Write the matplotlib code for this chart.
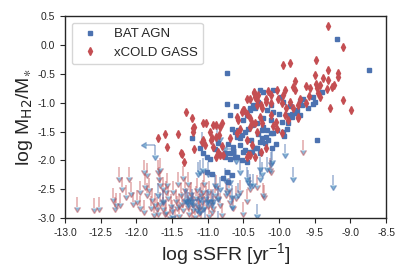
import matplotlib
matplotlib.use('Agg')
import matplotlib.pyplot as plt
import seaborn as sns
import numpy as np

sns.set_style('ticks')
plt.rcParams['font.family'] = ['Liberation Sans', 'DejaVu Sans']
plt.rcParams['mathtext.default'] = 'regular'

blue = '#4C72B0'
red = '#C44E52'

# xCOLD GASS detections
cg_x = [-9.31, -9.10, -9.94, -9.85, -9.48, -9.31, -9.49, -9.18, -9.18, -9.38, -9.32, -9.77, -9.62, -9.56,
        -9.48, -9.42, -9.26, -9.23, -9.33, -9.47, -9.45, -9.42, -9.10, -9.28, -8.99, -9.81, -9.77, -9.91,
        -10.03, -9.94, -10.15, -10.12, -10.35, -10.29, -9.71, -9.73, -9.84, -9.80, -10.01, -9.96, -10.19,
        -10.12, -10.31, -10.24, -9.73, -9.91, -9.87, -10.12, -10.05, -10.27, -10.24, -10.38, -10.31, -10.03,
        -9.96, -11.31, -11.22, -11.41, -11.20, -11.19, -11.06, -11.02, -10.92, -10.88, -10.80, -11.08, -11.06,
        -11.04, -11.19, -10.96, -10.88, -10.84, -10.92, -10.85, -11.36, -10.80, -10.83, -10.59, -10.57, -10.52,
        -10.49, -10.45, -10.41, -10.35, -10.34, -10.45, -10.38, -10.43, -10.34, -10.55, -10.59, -11.69, -11.60,
        -11.57, -11.38, -11.33, -11.20, -10.83, -10.94, -10.97, -10.31, -10.26, -10.19, -10.51, -10.45, -10.41,
        -10.34, -10.41, -10.69, -10.88, -10.78, -10.45, -10.41, -10.26, -10.19, -9.73, -9.62, -9.58, -9.90,
        -10.08]
cg_y = [0.33, -0.04, -0.34, -0.31, -0.26, -0.43, -0.52, -0.49, -0.55, -0.58, -0.61, -0.63, -0.71, -0.74,
        -0.67, -0.70, -0.73, -0.70, -0.77, -0.75, -0.84, -0.90, -0.96, -1.10, -1.12, -0.73, -0.78, -0.78,
        -0.78, -0.87, -0.80, -0.87, -0.82, -0.86, -0.94, -1.04, -0.98, -1.10, -0.93, -1.01, -0.93,
        -1.01, -1.04, -1.10, -1.25, -1.22, -1.30, -1.22, -1.33, -1.25, -1.36, -1.36, -1.50, -1.45,
        -1.53, -1.16, -1.26, -1.55, -1.50, -1.42, -1.36, -1.36, -1.38, -1.38, -1.35, -1.68, -1.65,
        -1.74, -1.81, -1.64, -1.60, -1.56, -1.77, -1.85, -1.89, -1.75, -1.91, -1.25, -1.30, -1.16,
        -1.13, -0.94, -0.93, -0.84, -0.90, -1.65, -1.74, -1.91, -1.94, -1.45, -1.53, -1.61, -1.55,
        -1.76, -1.88, -2.03, -1.44, -1.42, -1.62, -1.50, -0.96, -1.04, -0.99, -1.13, -1.19, -1.27,
        -1.36, -1.42, -1.62, -1.94, -1.90, -1.94, -1.91, -1.85, -1.79, -1.27, -1.00, -0.88, -1.10,
        -1.40]

# BAT AGN detections
bat_x = [-9.19, -8.74, -10.73, -10.73, -9.47, -9.71, -9.89, -9.93, -10.08, -10.12, -10.19, -10.24, -10.27,
         -9.52, -9.68, -9.82, -10.22, -10.17, -9.49, -9.52, -9.40, -9.66, -9.70, -9.75, -9.76, -9.82, -9.89,
         -10.08, -10.22, -10.27, -9.98, -9.94, -10.12, -10.17, -10.08, -10.29, -10.36, -10.41, -10.22, -10.12,
         -9.96, -9.87, -10.31, -10.24, -10.03, -9.94, -10.69, -11.22, -10.66, -10.62, -10.57, -10.59, -10.52,
         -10.48, -10.43, -10.38, -10.41, -10.34, -10.45, -10.71, -10.64, -10.55, -10.48, -10.41, -10.34, -10.69,
         -10.62, -10.76, -11.01, -10.97, -11.01, -10.94, -10.80, -10.76, -10.69, -10.64, -10.59, -10.52, -10.45,
         -10.38, -10.31, -10.27, -10.73, -10.66, -10.78, -10.71, -10.05, -10.10, -11.11, -11.06, -10.50, -10.55,
         -10.30, -10.00, -10.15, -9.85, -9.60, -10.60, -10.40, -10.20, -10.85, -10.90, -10.50]
bat_y = [0.11, -0.43, -0.49, -1.03, -1.65, -1.22, -1.45, -1.58, -1.53, -1.53, -1.59, -1.62, -1.68,
         -1.03, -1.04, -1.19, -1.42, -1.48, -0.99, -0.90, -0.81, -0.93, -0.99, -1.13, -1.18, -1.24, -1.22,
         -0.78, -0.81, -0.78, -0.90, -0.99, -1.04, -1.13, -1.16, -0.99, -1.04, -1.10, -1.27, -1.30,
         -1.33, -1.36, -1.36, -1.48, -1.48, -1.50, -1.22, -1.62, -1.45, -1.50, -1.48, -1.59, -1.56,
         -1.50, -1.45, -1.39, -1.13, -1.10, -1.22, -1.71, -1.77, -1.74, -1.82, -1.85, -1.79, -1.88,
         -1.94, -1.94, -1.94, -1.97, -2.20, -2.23, -1.91, -1.88, -1.97, -1.85, -1.94, -2.00, -2.03,
         -1.85, -1.79, -1.88, -2.20, -2.26, -2.31, -2.37, -1.71, -1.79, -1.79, -1.88, -1.30, -1.62,
         -1.55, -1.20, -1.65, -1.05, -1.10, -1.05, -1.65, -1.70, -1.70, -1.80, -1.85]

# xCOLD GASS upper limits
cg_lim_x = [-12.83, -12.60, -12.53, -12.33, -12.28, -12.23, -12.30, -12.25, -12.10, -12.20, -12.14, -12.07,
            -11.99, -11.95, -11.90, -11.90, -11.88, -11.83, -11.85, -11.78, -11.74, -11.71, -11.67, -11.62,
            -11.60, -11.69, -11.76, -11.69, -11.67, -11.62, -11.57, -11.85, -11.68, -11.67, -9.67, -10.13,
            -10.22, -10.50, -10.41, -10.31, -10.55, -10.69, -10.83, -10.80, -10.94, -11.06, -10.12, -10.21,
            -11.55, -11.52, -11.50, -11.48, -11.45, -11.43, -11.40, -11.38, -11.36, -11.34, -11.32, -11.30,
            -11.28, -11.26, -11.24, -11.22, -11.20, -11.18, -11.16, -11.14, -11.12, -11.10, -11.08, -11.05,
            -11.03, -11.00, -10.98, -10.95, -10.92, -10.90, -11.58, -11.53, -11.46, -11.42, -11.35, -11.28,
            -11.22, -11.15, -11.10, -11.05, -10.98, -11.62, -11.58, -11.40, -11.25, -11.12, -10.88, -10.85,
            -10.75, -10.70, -10.65, -10.60, -10.45, -11.80, -11.95, -12.05]
cg_lim_y = [-2.63, -2.65, -2.63, -2.48, -2.57, -2.57, -2.64, -2.12, -2.12, -2.29, -2.43, -2.38,
            -2.52, -2.62, -2.69, -2.00, -2.26, -2.31, -2.39, -2.48, -2.57, -2.64, -2.55, -2.64,
            -2.72, -2.72, -2.74, -2.00, -2.22, -2.29, -2.22, -2.05, -2.12, -1.96, -1.65, -1.96,
            -2.39, -2.72, -2.29, -2.26, -2.34, -2.52, -2.57, -2.74, -2.69, -2.34, -2.00, -2.43,
            -2.45, -2.58, -2.68, -2.35, -2.50, -2.62, -2.75, -2.40, -2.55, -2.66, -2.30, -2.48,
            -2.60, -2.72, -2.38, -2.55, -2.65, -2.78, -2.45, -2.58, -2.70, -2.40, -2.52, -2.62,
            -2.45, -2.58, -2.35, -2.50, -2.62, -2.40, -2.70, -2.80, -2.85, -2.20, -2.10, -2.20,
            -2.85, -2.30, -2.82, -2.20, -2.75, -2.50, -2.35, -2.58, -2.45, -2.62, -2.25, -2.45,
            -2.40, -2.30, -2.62, -2.45, -2.50, -2.62, -2.35, -2.55]

# BAT AGN upper limits (H2 only)
bat_lim_x = [-9.24, -9.81, -9.91, -10.12, -10.24, -10.27, -10.31, -10.45, -10.41, -10.66, -10.66, -10.73,
             -10.83, -10.90, -10.92, -11.01, -11.04, -10.85, -11.06, -10.76, -10.69, -10.10, -10.17, -11.69,
             -11.62, -11.29, -11.22, -11.48, -10.99, -10.94, -10.85, -10.57, -10.43, -10.36, -10.27, -11.32,
             -11.27, -11.20, -11.11, -11.15, -11.11, -11.06, -11.13, -10.55, -11.08, -10.87, -10.83, -10.99]
bat_lim_y = [-2.26, -2.11, -1.71, -1.85, -2.03, -1.94, -2.75, -2.11, -2.23, -2.60, -2.43, -2.34,
             -2.29, -2.23, -2.49, -2.52, -2.83, -2.88, -2.63, -2.13, -2.17, -1.82, -1.94, -2.40,
             -2.51, -2.52, -2.49, -2.78, -2.49, -2.55, -2.46, -2.40, -2.17, -2.23, -2.11, -2.49,
             -2.55, -2.57, -2.46, -2.66, -2.00, -1.96, -2.03, -2.00, -1.50, -1.45, -1.42, -2.03]

# BAT AGN upper limits in both sSFR and H2
bat_both_x = [-11.74, -11.11, -10.60]
bat_both_y = [-1.74, -2.69, -1.80]

fig = plt.figure(figsize=(4.09, 2.73), dpi=100)
ax = fig.add_axes([0.159, 0.201, 0.785, 0.740])

with plt.rc_context({'lines.markersize': 4.5}):
    ax.errorbar(cg_lim_x, cg_lim_y, yerr=0.17, uplims=True, fmt='none', ecolor=red,
                alpha=0.5, elinewidth=1.1, capsize=0)
    ax.errorbar(bat_lim_x, bat_lim_y, yerr=0.17, uplims=True, fmt='none', ecolor=blue,
                alpha=0.55, elinewidth=1.1, capsize=0)
    ax.errorbar(bat_both_x, bat_both_y, yerr=0.17, xerr=0.13, uplims=True, xuplims=True,
                fmt='none', ecolor=blue, alpha=0.55, elinewidth=1.1, capsize=0)

ax.plot(bat_x, bat_y, 's', color=blue, markersize=3.3, linestyle='none', label='BAT AGN')
ax.plot(cg_x, cg_y, 'd', color=red, markersize=4, linestyle='none', label='xCOLD GASS')

ax.set_xlim(-13, -8.5)
ax.set_ylim(-3.0, 0.5)
ax.set_xticks(np.arange(-13, -8.49, 0.5))
ax.set_yticks(np.arange(-3.0, 0.51, 0.5))
ax.xaxis.set_major_formatter(matplotlib.ticker.FormatStrFormatter('%.1f'))
ax.yaxis.set_major_formatter(matplotlib.ticker.FormatStrFormatter('%.1f'))
ax.tick_params(labelsize=7.5, length=3.5, width=0.8)
for s in ax.spines.values():
    s.set_linewidth(1.0)
    s.set_color('#262626')

ax.set_xlabel('log sSFR [yr$^{-1}$]', fontsize=14, labelpad=2)
ax.set_ylabel('log M$_{\\rm H2}$/M$_{\\ast}$', fontsize=14, labelpad=2)

leg = ax.legend(loc='upper left', fontsize=9.5, frameon=True, edgecolor='#cccccc')

fig.savefig('out.png', dpi=100)
